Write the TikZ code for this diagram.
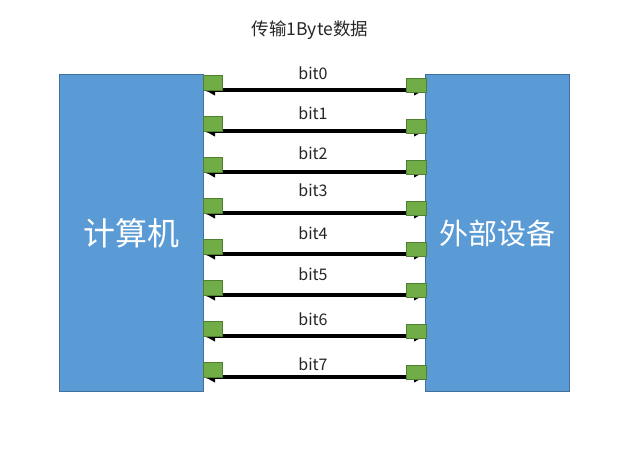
\documentclass[tikz,border=0pt]{standalone}
\usepackage{fontspec}
\setmainfont{Noto Sans CJK SC}
\usetikzlibrary{arrows.meta}
\definecolor{boxblue}{HTML}{5B9BD5}
\definecolor{boxedge}{HTML}{41719C}
\definecolor{portgreen}{HTML}{70AD47}
\definecolor{portedge}{HTML}{507E32}
\definecolor{textgray}{HTML}{262626}
\tikzstyle{device}=[draw=boxedge, fill=boxblue, line width=1pt, text=white,
  minimum width=144pt, minimum height=316pt, inner sep=0pt, font=\fontsize{32}{32}\selectfont]
\tikzstyle{lport}=[draw=portedge, fill=portgreen, line width=0.8pt,
  minimum width=19pt, minimum height=15pt, inner sep=0pt]
\tikzstyle{rport}=[lport, minimum width=20pt, minimum height=14pt]
\tikzstyle{bus}=[line width=3.5pt, {Latex[length=12pt,width=12pt]}-{Latex[length=12pt,width=12pt]}]
\tikzstyle{bitlabel}=[text=textgray, font=\fontsize{16}{16}\selectfont, inner sep=0pt]

\begin{document}
\begin{tikzpicture}[x=1pt, y=-1pt]
\useasboundingbox (0,0) rectangle (640,457);
% Title
    \node[bitlabel, font=\fontsize{17.5}{17.5}\selectfont] (title) at (310,30) {传输1Byte数据};
% Devices
    \node[device] (pc) at (131,233) {计算机};
    \node[device, font=\fontsize{29}{29}\selectfont] (ext) at (497.5,233) {外部设备};
% Bus ends
    \coordinate (a0) at (203,90);  \coordinate (b0) at (426,90);
    \coordinate (a1) at (203,131); \coordinate (b1) at (426,131);
    \coordinate (a2) at (203,172); \coordinate (b2) at (426,172);
    \coordinate (a3) at (203,213); \coordinate (b3) at (426,213);
    \coordinate (a4) at (203,254); \coordinate (b4) at (426,254);
    \coordinate (a5) at (203,295); \coordinate (b5) at (426,295);
    \coordinate (a6) at (203,336); \coordinate (b6) at (426,336);
    \coordinate (a7) at (203,377); \coordinate (b7) at (426,377);
% Data lines
    \draw[bus] (a0) -- (b0);
    \draw[bus] (a1) -- (b1);
    \draw[bus] (a2) -- (b2);
    \draw[bus] (a3) -- (b3);
    \draw[bus] (a4) -- (b4);
    \draw[bus] (a5) -- (b5);
    \draw[bus] (a6) -- (b6);
    \draw[bus] (a7) -- (b7);
% Ports
    \node[lport] (l0) at (212.5,82.5) {};  \node[rport] (r0) at (416,85) {};
    \node[lport] (l1) at (212.5,123.5) {}; \node[rport] (r1) at (416,126) {};
    \node[lport] (l2) at (212.5,164.5) {}; \node[rport] (r2) at (416,167) {};
    \node[lport] (l3) at (212.5,205.5) {}; \node[rport] (r3) at (416,208) {};
    \node[lport] (l4) at (212.5,246.5) {}; \node[rport] (r4) at (416,249) {};
    \node[lport] (l5) at (212.5,287.5) {}; \node[rport] (r5) at (416,290) {};
    \node[lport] (l6) at (212.5,328.5) {}; \node[rport] (r6) at (416,331) {};
    \node[lport] (l7) at (212.5,369.5) {}; \node[rport] (r7) at (416,372) {};
% Bit labels
    \node[bitlabel] (t0) at (313,73) {bit0};
    \node[bitlabel] (t1) at (313,113) {bit1};
    \node[bitlabel] (t2) at (313,153) {bit2};
    \node[bitlabel] (t3) at (313,190) {bit3};
    \node[bitlabel] (t4) at (313,233) {bit4};
    \node[bitlabel] (t5) at (313,274) {bit5};
    \node[bitlabel] (t6) at (313,319) {bit6};
    \node[bitlabel] (t7) at (313,364) {bit7};
\end{tikzpicture}
\end{document}
